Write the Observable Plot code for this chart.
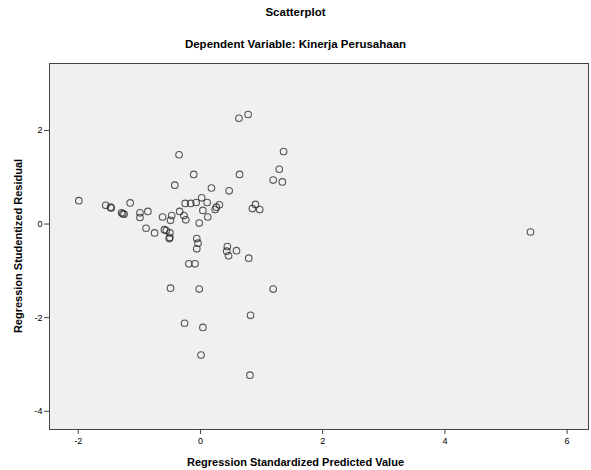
<!DOCTYPE html>
<html>
<head>
<meta charset="utf-8">
<script src="https://cdn.jsdelivr.net/npm/d3@7"></script>
<script src="https://cdn.jsdelivr.net/npm/@observablehq/plot@0.6"></script>
<style>
  html, body { margin: 0; padding: 0; background: #fff; }
  #wrap { position: relative; width: 591px; height: 470px; font-family: "Liberation Sans", Arial, sans-serif; }
  .t { position: absolute; left: 0; width: 591px; text-align: center; font-weight: bold; font-size: 11.5px; color: #000; white-space: nowrap; }
  #ylab { position: absolute; font-weight: bold; font-size: 11px; white-space: nowrap; transform: translate(-50%, -50%) rotate(-90deg); left: 18px; top: 246px; }
  #chart { position: absolute; left: 0; top: 0; }
</style>
</head>
<body>
<div id="wrap">
  <div id="chart"></div>
  <div class="t" style="top:6px;">Scatterplot</div>
  <div class="t" style="top:38px;">Dependent Variable: Kinerja Perusahaan</div>
  <div class="t" style="top:456px; font-size:11px;">Regression Standardized Predicted Value</div>
  <div id="ylab">Regression Studentized Residual</div>
</div>
<script>
// Regression Standardized Predicted Value (x)
const predicted = [
  -1.99, -1.55, -1.47, -1.46, -1.15, -1.29, -1.27, -1.25, -0.99, -0.99,
  -0.86, -0.89, -0.75, -0.62, -0.47, -0.49, -0.59, -0.56, -0.50, -0.50,
  -0.51, -0.35, -0.42, -0.11, 0.18, -0.34, -0.27, -0.24, -0.25, -0.16,
  -0.07, 0.02, 0.11, 0.04, 0.12, -0.02, 0.24, 0.26, 0.31, -0.06,
  -0.04, -0.06, 0.63, 0.78, 1.36, 0.64, 1.29, 1.19, 1.34, 0.47,
  0.85, 0.90, 0.97, -0.19, -0.09, 0.44, 0.43, 0.46, 0.59, 0.79,
  -0.49, -0.02, 1.19, 0.82, -0.26, 0.04, 0.01, 0.81, 5.40
];
// Regression Studentized Residual (y)
const residual = [
  0.50, 0.40, 0.36, 0.34, 0.45, 0.24, 0.22, 0.21, 0.24, 0.14,
  0.27, -0.09, -0.19, 0.15, 0.18, 0.08, -0.12, -0.14, -0.19, -0.29,
  -0.31, 1.48, 0.83, 1.06, 0.77, 0.27, 0.18, 0.09, 0.44, 0.44,
  0.46, 0.56, 0.46, 0.29, 0.15, 0.02, 0.31, 0.36, 0.41, -0.31,
  -0.41, -0.53, 2.26, 2.34, 1.55, 1.06, 1.17, 0.94, 0.90, 0.71,
  0.33, 0.42, 0.31, -0.85, -0.85, -0.48, -0.58, -0.68, -0.57, -0.73,
  -1.37, -1.39, -1.39, -1.95, -2.12, -2.21, -2.80, -3.23, -0.17
];
const xTicks = [-2, 0, 2, 4, 6];
const yTicks = [-4, -2, 0, 2];

const chart = Plot.plot({
  width: 591,
  height: 470,
  marginTop: 63,
  marginBottom: 41,
  marginLeft: 49,
  marginRight: 3,
  style: { fontFamily: "'Liberation Sans', Arial, sans-serif", fontSize: "9px", background: "transparent", color: "#000" },
  x: { domain: [-2.47, 6.35], label: null },
  y: { domain: [-4.39, 3.43], label: null },
  marks: [
    Plot.frame({ fill: "#f0f0f0" }),
    Plot.dot(predicted, {
      x: (d) => d,
      y: (d, i) => residual[i],
      r: 3.3,
      stroke: "#222",
      strokeOpacity: 0.75,
      strokeWidth: 1.1,
      fill: "none"
    }),
    Plot.frame({ stroke: "#444", strokeWidth: 1 }),
    Plot.axisX({ ticks: xTicks, tickFormat: (d) => String(d), tickSize: 5, tickPadding: 3, label: null, stroke: "#444" }),
    Plot.axisY({ ticks: yTicks, tickFormat: (d) => String(d), tickSize: 5, tickPadding: 2, label: null, stroke: "#444" })
  ]
});
document.getElementById("chart").appendChild(chart);
</script>
</body>
</html>
